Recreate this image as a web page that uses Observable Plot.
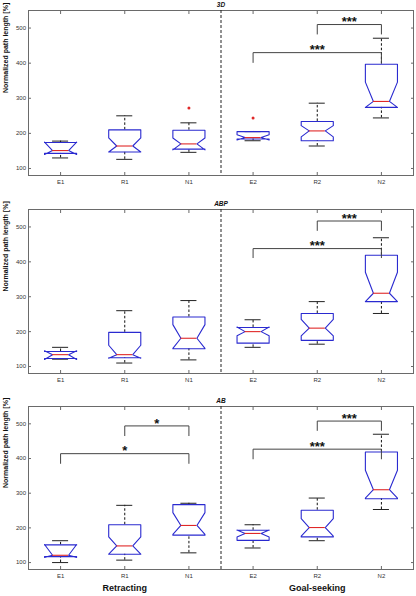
<!DOCTYPE html>
<html><head><meta charset="utf-8">
<script src="https://cdn.jsdelivr.net/npm/d3@7"></script>
<script src="https://cdn.jsdelivr.net/npm/@observablehq/plot@0.6"></script>
<style>
body{margin:0;background:#fff;}
#c{position:relative;width:416px;height:596px;overflow:hidden;}
#c > div{position:absolute;left:0;}
</style></head><body><div id="c"></div>
<script>
// ---------- data ----------
const categories = ["E1","R1","N1","E2","R2","N2"];
const panelTitles = ["3D","ABP","AB"];
const yTicks = [100,200,300,400,500];
const yLabel = "Normalized path length [%]";
const groupLabels = ["Retracting","Goal-seeking"];
const groupCenterCats = ["R1","R2"];

// Panel 3D
const lo3D  = [130,126,146,179,164,244];
const q1_3D = [143,147,155,184,179,274];
const nlo3D = [140,147,153,181,190,274];
const med3D = [151,164,170,188,207,291];
const nhi3D = [175,187,187,196,222,346];
const q3_3D = [174,210,209,205,234,397];
const hi3D  = [178,250,230,205,286,471];
const outCat3D = ["N1","E2"];
const outVal3D = [272,244];
const brkFrom3D = ["R2","E2"];
const brkTo3D   = ["N2","N2"];
const brkBar3D  = [510,430];
const brkLeg3D  = [483,402];
const brkTxt3D  = ["***","***"];

// Panel ABP
const loABP  = [121,110,119,155,164,252];
const q1ABP  = [123,125,151,167,175,286];
const nloABP = [120,124,152,188,188,286];
const medABP = [134,134,181,200,210,310];
const nhiABP = [145,161,220,213,235,370];
const q3ABP  = [143,198,242,212,252,419];
const hiABP  = [155,260,289,234,286,469];
const outCatABP = [];
const outValABP = [];
const brkFromABP = ["R2","E2"];
const brkToABP   = ["N2","N2"];
const brkBarABP  = [517,438];
const brkLegABP  = [490,412];
const brkTxtABP  = ["***","***"];

// Panel AB
const loAB  = [100,107,128,142,163,253];
const q1AB  = [117,124,179,164,174,284];
const nloAB = [115,124,181,174,176,286];
const medAB = [121,148,207,184,201,310];
const nhiAB = [152,174,244,194,227,366];
const q3AB  = [151,209,267,193,251,419];
const hiAB  = [163,265,271,209,286,470];
const outCatAB = [];
const outValAB = [];
const brkFromAB = ["R1","E1","R2","E2"];
const brkToAB   = ["N1","N1","N2","N2"];
const brkBarAB  = [494,414,508,427];
const brkLegAB  = [466,386,481,399];
const brkTxtAB  = ["*","*","***","***"];

// ---------- styling ----------
const FONT = "'Liberation Sans', Arial, sans-serif";
const BLUE = "#2a2ad0", RED = "#e02828", FRAME = "#6a6a6a", BRK = "#444";
const W = 0.25;       // box half-width (category units)
const CAP = 0.125;    // cap / median half-width

const pos = c => categories.indexOf(c) + 1;

function panel(p) {
  const boxes = categories.map((c, i) => ({
    x: i + 1, lo: p.lo[i], q1: p.q1[i], nlo: p.nlo[i], med: p.med[i],
    nhi: p.nhi[i], q3: p.q3[i], hi: p.hi[i]
  }));
  const poly = [];
  boxes.forEach((b, i) => {
    const pts = [
      [b.x - W, b.q1], [b.x - W, b.nlo], [b.x - W / 2, b.med], [b.x - W, b.nhi], [b.x - W, b.q3],
      [b.x + W, b.q3], [b.x + W, b.nhi], [b.x + W / 2, b.med], [b.x + W, b.nlo], [b.x + W, b.q1],
      [b.x - W, b.q1]
    ];
    pts.forEach(([x, y]) => poly.push({x, y, z: i}));
  });
  const outliers = p.outCat.map((c, i) => ({x: pos(c), y: p.outVal[i]}));
  const brk = [];
  const brkText = [];
  p.brkFrom.forEach((f, i) => {
    const a = pos(f), b = pos(p.brkTo[i]);
    [[a, p.brkLeg[i]], [a, p.brkBar[i]], [b, p.brkBar[i]], [b, p.brkLeg[i]]]
      .forEach(([x, y]) => brk.push({x, y, z: i}));
    brkText.push({x: (a + b) / 2, y: p.brkBar[i], t: p.brkTxt[i]});
  });
  const sep = (pos("N1") + pos("E2")) / 2;
  const xTicks = categories.map(pos);

  const marks = [
    Plot.frame({stroke: FRAME, strokeWidth: 1}),
    Plot.ruleX([sep], {stroke: "#222", strokeDasharray: "3,2", strokeWidth: 1}),
    // whiskers
    Plot.ruleX(boxes, {x: "x", y1: "q3", y2: "hi", stroke: "#111", strokeDasharray: "2.5,2"}),
    Plot.ruleX(boxes, {x: "x", y1: "lo", y2: "q1", stroke: "#111", strokeDasharray: "2.5,2"}),
    Plot.ruleY(boxes, {y: "hi", x1: d => d.x - CAP, x2: d => d.x + CAP, stroke: "#222"}),
    Plot.ruleY(boxes, {y: "lo", x1: d => d.x - CAP, x2: d => d.x + CAP, stroke: "#222"}),
    // boxes
    Plot.line(poly, {x: "x", y: "y", z: "z", stroke: BLUE, strokeWidth: 1.1, curve: "linear"}),
    Plot.ruleY(boxes, {y: "med", x1: d => d.x - W / 2, x2: d => d.x + W / 2, stroke: RED, strokeWidth: 1.1}),
    Plot.dot(outliers, {x: "x", y: "y", r: 1.5, fill: RED, stroke: null}),
    // brackets
    Plot.line(brk, {x: "x", y: "y", z: "z", stroke: BRK, strokeWidth: 1}),
    Plot.text(brkText, {x: "x", y: "y", text: "t", fontSize: 13, fontWeight: "bold", fill: "#111", lineAnchor: "middle", dy: -2.5}),
    // axes
    Plot.axisY({anchor: "left", ticks: yTicks, tickSize: -3, tickPadding: 5.5, fontSize: 6, label: null, stroke: FRAME, color: "#333"}),
    Plot.axisY({anchor: "right", ticks: yTicks, tickSize: -3, tickFormat: () => "", label: null, stroke: FRAME}),
    Plot.axisX({anchor: "bottom", ticks: xTicks, tickSize: -3, tickPadding: 7.5, fontSize: 6, tickFormat: i => categories[i - 1], label: null, stroke: FRAME, color: "#333"}),
    Plot.axisX({anchor: "top", ticks: xTicks, tickSize: -3, tickFormat: () => "", label: null, stroke: FRAME}),
    // titles
    Plot.text([p.title], {frameAnchor: "top", dy: -4, lineAnchor: "bottom", fontSize: 6.5, fontWeight: "bold", fontStyle: "italic", fill: "#111"}),
    Plot.text([yLabel], {frameAnchor: "left", rotate: -90, dx: -23, fontSize: 7, fontWeight: "bold", fill: "#111"})
  ];
  if (p.groups) {
    marks.push(Plot.text(groupLabels.map((g, i) => ({x: pos(groupCenterCats[i]), t: g})),
      {x: "x", text: "t", frameAnchor: "bottom", dy: 21, fontSize: 9, fontWeight: "bold", fill: "#111"}));
  }
  return Plot.plot({
    width: 416, height: p.height,
    marginLeft: 28, marginRight: 3, marginTop: p.mt, marginBottom: p.mb,
    style: {fontFamily: FONT, background: "#fff", overflow: "visible"},
    x: {type: "linear", domain: [0.5, 6.5], axis: null},
    y: {type: "linear", domain: [80, 550], axis: null},
    marks
  });
}

const panels = [
  {title: panelTitles[0], lo: lo3D, q1: q1_3D, nlo: nlo3D, med: med3D, nhi: nhi3D, q3: q3_3D, hi: hi3D,
   outCat: outCat3D, outVal: outVal3D, brkFrom: brkFrom3D, brkTo: brkTo3D, brkBar: brkBar3D, brkLeg: brkLeg3D, brkTxt: brkTxt3D,
   top: 0, height: 195, mt: 10, mb: 20},
  {title: panelTitles[1], lo: loABP, q1: q1ABP, nlo: nloABP, med: medABP, nhi: nhiABP, q3: q3ABP, hi: hiABP,
   outCat: outCatABP, outVal: outValABP, brkFrom: brkFromABP, brkTo: brkToABP, brkBar: brkBarABP, brkLeg: brkLegABP, brkTxt: brkTxtABP,
   top: 195, height: 199, mt: 14, mb: 21},
  {title: panelTitles[2], lo: loAB, q1: q1AB, nlo: nloAB, med: medAB, nhi: nhiAB, q3: q3AB, hi: hiAB,
   outCat: outCatAB, outVal: outValAB, brkFrom: brkFromAB, brkTo: brkToAB, brkBar: brkBarAB, brkLeg: brkLegAB, brkTxt: brkTxtAB,
   top: 394, height: 202, mt: 12, mb: 27, groups: true}
];

const c = document.getElementById("c");
panels.forEach(p => {
  const d = document.createElement("div");
  d.style.top = p.top + "px";
  d.appendChild(panel(p));
  c.appendChild(d);
});
</script></body></html>
